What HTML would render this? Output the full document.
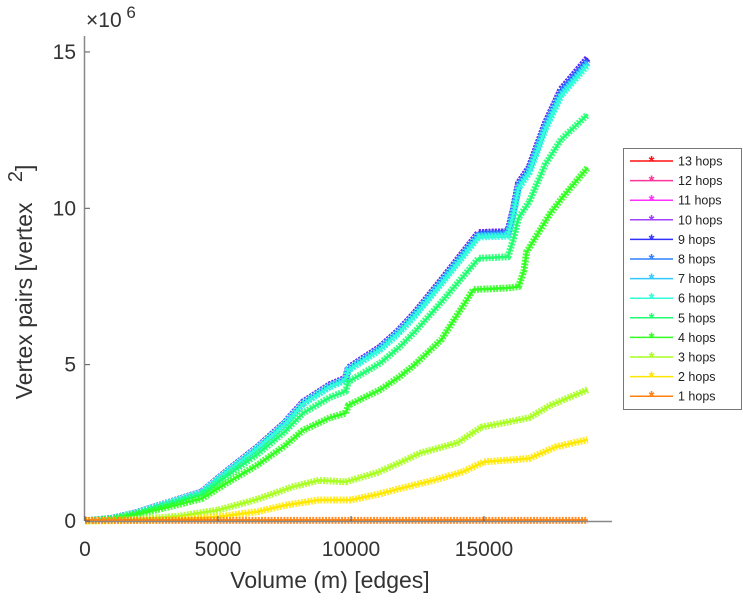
<!DOCTYPE html>
<html><head><meta charset="utf-8"><style>
html,body{margin:0;padding:0;background:#fff;}
svg{display:block;font-family:"Liberation Sans",sans-serif;}
</style></head><body>
<svg id="chart" width="743" height="600">
<g id="plot"></g>
<g id="axes"></g>
<g id="legend"></g>
</svg>
<script>
// x values (edges)
const xTop = [0,1000,1900,3100,4400,5300,6500,7500,8200,9200,9800,9900,11100,11800,12400,13400,14800,15900,16100,16300,16700,17300,17900,18900];
// 9 hops (top) values in millions
const yTop = [0,0.08,0.26,0.58,0.93,1.57,2.37,3.13,3.8,4.35,4.57,4.89,5.56,6.1,6.65,7.7,9.22,9.25,9.94,10.8,11.3,12.7,13.8,14.8];
const y5 = [0,0.07,0.23,0.52,0.84,1.42,2.15,2.85,3.45,3.95,4.15,4.45,5.05,5.55,6.05,7.0,8.4,8.45,9.0,9.7,10.2,11.4,12.2,13.0];
const x4 = [0,1000,1900,3100,4400,5300,6500,7500,8200,9200,9800,9900,11100,11800,12400,13400,14600,15900,16300,16500,16600,17500,18000,18900];
const y4 = [0,0.06,0.2,0.44,0.72,1.2,1.8,2.4,2.9,3.3,3.45,3.7,4.2,4.6,5.0,5.8,7.4,7.45,7.5,8.0,8.6,9.85,10.4,11.3];
const x3 = [0,2000,3500,5000,6500,7800,8800,9800,11000,11900,12600,14000,14900,16700,17500,18900];
const y3 = [0,0.05,0.15,0.35,0.7,1.09,1.3,1.25,1.55,1.89,2.17,2.5,3.0,3.3,3.7,4.2];
const x2 = [0,3000,5000,6500,7500,8800,10000,11000,11900,13100,14200,15000,16700,17700,18900];
const y2 = [0,0.03,0.13,0.3,0.5,0.67,0.67,0.85,1.05,1.3,1.57,1.89,2.0,2.37,2.6];
const x1 = [0,5000,10000,15000,18900];
const y1 = [0.02,0.02,0.02,0.02,0.02];
const xTicks = [0,5000,10000,15000];
const xTickLabels = ["0","5000","10000","15000"];
const yTicks = [0,5,10,15];
const yTickLabels = ["0","5","10","15"];
const seriesNames = ["13 hops","12 hops","11 hops","10 hops","9 hops","8 hops","7 hops","6 hops","5 hops","4 hops","3 hops","2 hops","1 hops"];
const seriesColors = ["#ff1010","#ff3399","#ff30ff","#a040ff","#3030ff","#3080ff","#30c8ff","#30ffd8","#20ff70","#30ff20","#a8ff20","#ffe800","#ff8010"];
const seriesScale = [1,1,1,1,1,0.995,0.99,0.985];

const X0=85, XW=26.6/1000, Y0=521, YH=31.27;
const sx = v => X0 + v*XW;
const sy = v => Y0 - v*YH;
const NS='http://www.w3.org/2000/svg';
function mk(tag, attrs, parent){const e=document.createElementNS(NS,tag);for(const k in attrs)e.setAttribute(k,attrs[k]);parent.appendChild(e);return e;}

const plot=document.getElementById('plot');
const data=[];
for(let i=0;i<8;i++) data.push([xTop, yTop.map(v=>v*seriesScale[i])]);
data.push([xTop,y5]); data.push([x4,y4]); data.push([x3,y3]); data.push([x2,y2]); data.push([x1,y1]);

data.forEach((d,i)=>{
  const g=mk('g',{},plot);
  
  
  const pts=d[0].map((x,j)=>sx(x).toFixed(1)+','+sy(d[1][j]).toFixed(1)).join(' ');
  const pl=mk('polyline',{points:pts,fill:'none',stroke:seriesColors[i],'stroke-width':7,'stroke-linejoin':'round','stroke-dasharray':'2 1.2','stroke-opacity':0.85},g);
  
  
  const pl2=mk('polyline',{points:pts,fill:'none',stroke:seriesColors[i],'stroke-width':2.5},g);
  
  
});

const axes=document.getElementById('axes');
const xl=mk('line',{x1:X0,y1:Y0+0.5,x2:612,y2:Y0+0.5,stroke:'#888','stroke-width':1.5},axes);


const yl=mk('line',{x1:X0-0.5,y1:Y0,x2:X0-0.5,y2:36,stroke:'#888','stroke-width':1.5},axes);


xTicks.forEach((v,i)=>{
  mk('line',{x1:sx(v),y1:Y0,x2:sx(v),y2:Y0-5,stroke:'#555'},axes);
  const t=mk('text',{x:sx(v),y:556,'font-size':21,fill:'#333','text-anchor':'middle'},axes);
  t.textContent=xTickLabels[i];
  
  
});
yTicks.forEach((v,i)=>{
  mk('line',{x1:X0,y1:sy(v),x2:X0+5,y2:sy(v),stroke:'#555'},axes);
  const t=mk('text',{x:X0-9,y:sy(v)+7,'font-size':21,fill:'#333','text-anchor':'end'},axes);
  t.textContent=yTickLabels[i];
  
  
});
const ex=mk('text',{x:86,y:27,'font-size':21,fill:'#333'},axes);
ex.innerHTML='×10<tspan dy="-9" font-size="17"> 6</tspan>';


const xt=mk('text',{x:330,y:588,'font-size':23,fill:'#333','text-anchor':'middle'},axes);
xt.textContent='Volume (m) [edges]';


const yt=mk('text',{x:0,y:0,'font-size':23,fill:'#333','text-anchor':'middle',transform:'translate(32,282) rotate(-90)'},axes);
yt.innerHTML='Vertex pairs [vertex <tspan dx="14" dy="-10" font-size="20">2</tspan><tspan dy="10">]</tspan>';



const lg=document.getElementById('legend');
const box=mk('rect',{x:623.5,y:148.5,width:118,height:261,fill:'#fff',stroke:'#777'},lg);


seriesNames.forEach((n,i)=>{
  const y=161+i*19.6;
  const g=mk('g',{},lg);
  
  
  mk('line',{x1:630,y1:y,x2:673,y2:y,stroke:seriesColors[i],'stroke-width':1.5},g);
  const m=mk('text',{x:651.5,y:y+5,'font-size':15,fill:seriesColors[i],'text-anchor':'middle','font-weight':'bold'},g);
  m.textContent='*';
  const t=mk('text',{x:678,y:y+4.5,'font-size':12.5,fill:'#222'},g);
  t.textContent=n;
});
</script>
</body></html>
